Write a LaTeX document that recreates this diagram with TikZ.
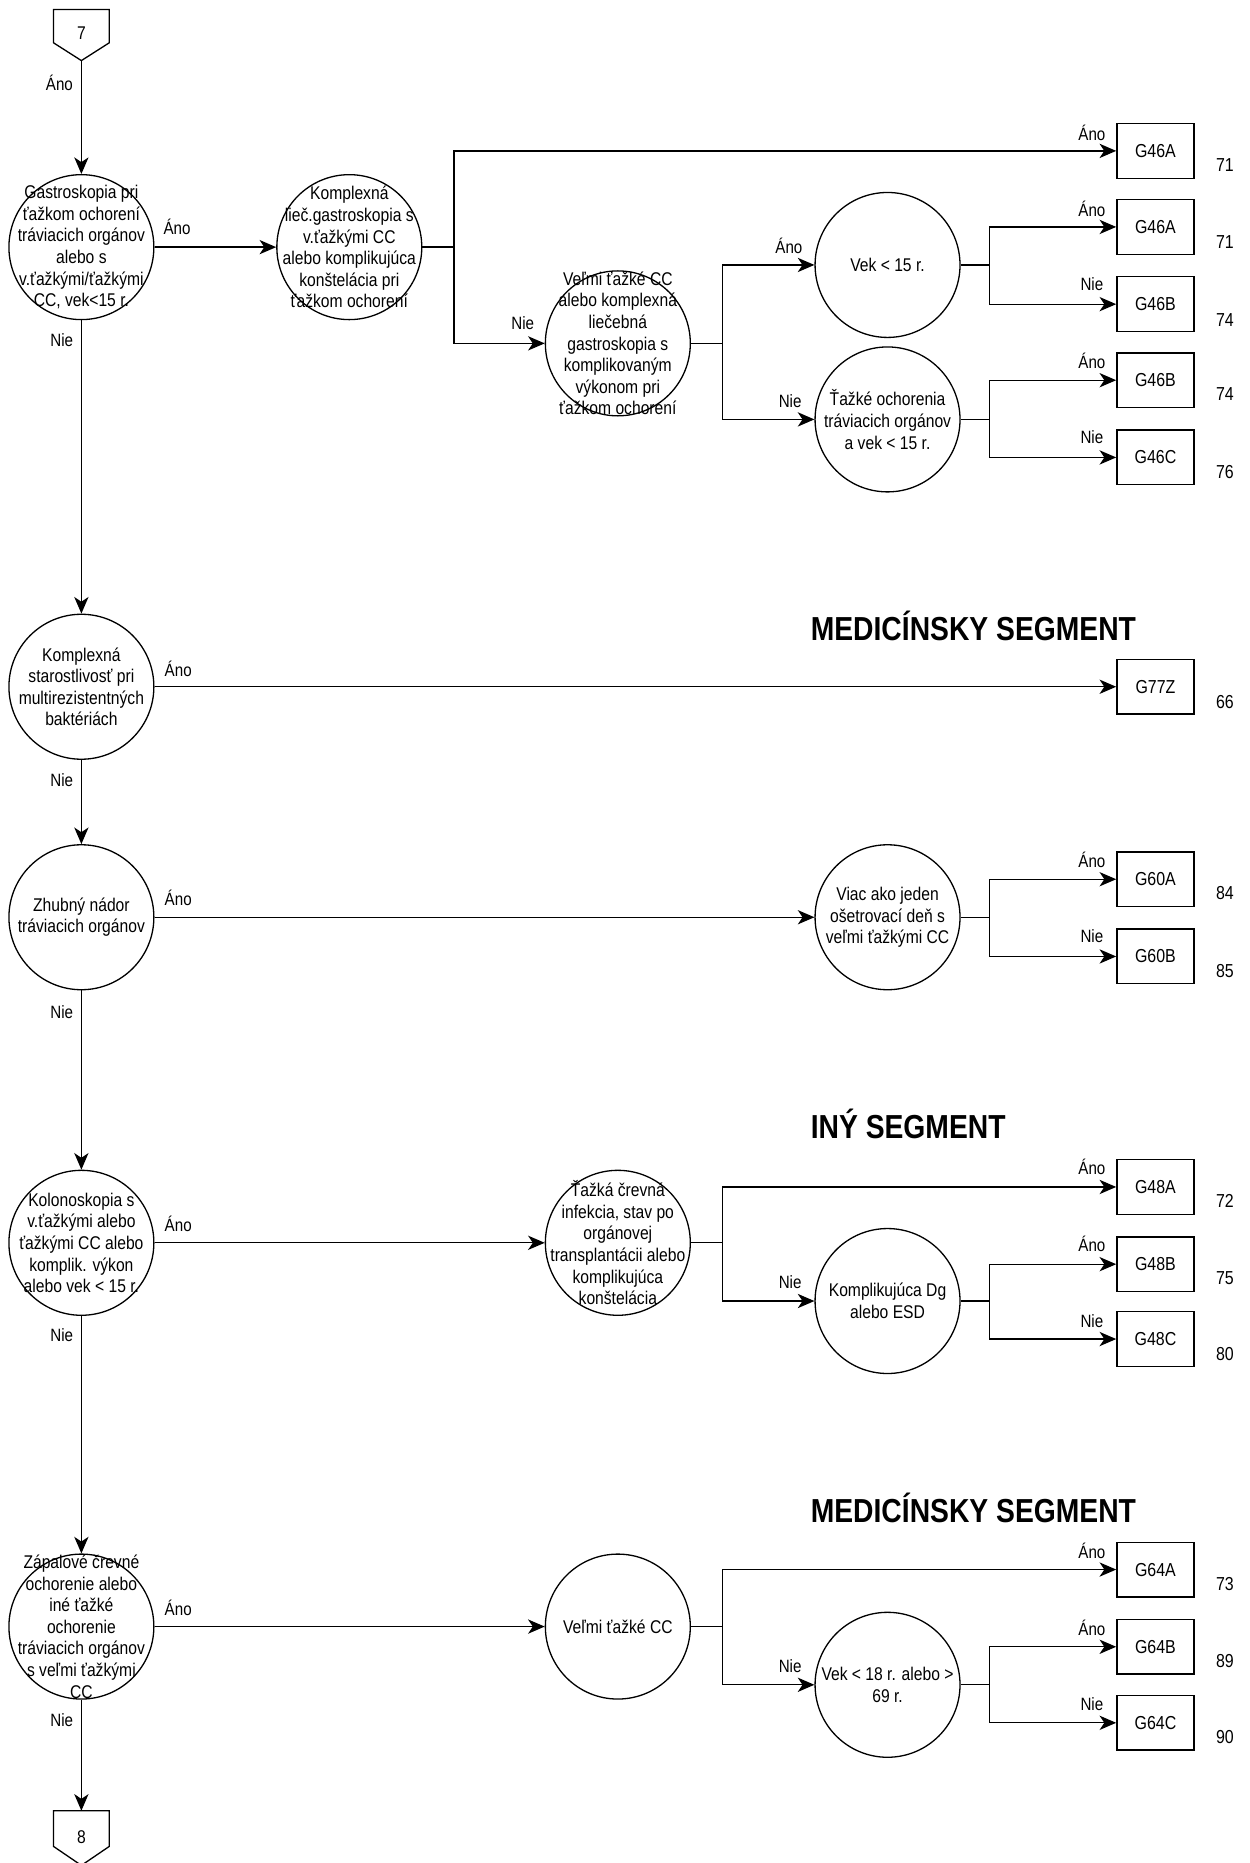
\documentclass[tikz,border=0pt]{standalone}
\usepackage{fontspec}
\setmainfont{Liberation Sans}[FakeStretch=0.85]
\usetikzlibrary{arrows.meta}
\begin{document}
\begin{tikzpicture}[x=0.5pt,y=-0.5pt,
  line/.style={line width=0.55pt},
  arr/.style={line width=0.55pt,-{Stealth[length=7pt,width=6pt,inset=2pt]}},
  circ/.style={draw,circle,minimum size=61pt,inner sep=0pt,line width=0.55pt},
  ctext/.style={align=center,font=\fontsize{7.75pt}{9.1pt}\selectfont,inner sep=0pt},
  box/.style={draw,rectangle,minimum width=32.5pt,minimum height=23pt,inner sep=0pt,line width=0.55pt,font=\fontsize{7.9pt}{9.1pt}\selectfont},
  lbl/.style={font=\fontsize{7.5pt}{9pt}\selectfont,inner sep=0pt},
  num/.style={font=\fontsize{7.9pt}{9pt}\selectfont,inner sep=0pt},
  ttl/.style={font=\fontsize{14pt}{16pt}\selectfont\bfseries,inner sep=0pt,anchor=base west}
]
\useasboundingbox (0,0) rectangle (1052,1568);

% off-page connectors
\draw[line] (45,8) -- (92,8) -- (92,36) -- (68.5,51) -- (45,36) -- cycle;
\node[ctext] (t7) at (68.5,28) {7};
\coordinate (p7tip) at (68.5,51);
\draw[line] (45,1524) -- (92,1524) -- (92,1554) -- (68.5,1570) -- (45,1554) -- cycle;
\node[ctext] (t8) at (68.5,1546) {8};
\coordinate (p8top) at (68.5,1524);

% circles
\node[circ] (c1) at (68.5,208) {};
\node[ctext] at (c1) {Gastroskopia pri\\ťažkom ochorení\\tráviacich orgánov\\alebo s\\v.ťažkými/ťažkými\\CC, vek<15 r.};
\node[circ] (c2) at (294,208) {};
\node[ctext] at (c2) {Komplexná\\lieč.gastroskopia s\\v.ťažkými CC\\alebo komplikujúca\\konštelácia pri\\ťažkom ochorení};
\node[circ] (c3) at (520,289) {};
\node[ctext] at (c3) {Veľmi ťažké CC\\alebo komplexná\\liečebná\\gastroskopia s\\komplikovaným\\výkonom pri\\ťažkom ochorení};
\node[circ] (c4) at (747,223) {};
\node[ctext] at (c4) {Vek < 15 r.};
\node[circ] (c5) at (747,353) {};
\node[ctext] at (c5) {Ťažké ochorenia\\tráviacich orgánov\\a vek < 15 r.};
\node[circ] (c6) at (68.5,578) {};
\node[ctext] at (c6) {Komplexná\\starostlivosť pri\\multirezistentných\\baktériách};
\node[circ] (c7) at (68.5,772) {};
\node[ctext] at (c7) {Zhubný nádor\\tráviacich orgánov};
\node[circ] (c8) at (747,772) {};
\node[ctext] at (c8) {Viac ako jeden\\ošetrovací deň s\\veľmi ťažkými CC};
\node[circ] (c9) at (68.5,1046) {};
\node[ctext] at (c9) {Kolonoskopia s\\v.ťažkými alebo\\ťažkými CC alebo\\komplik. výkon\\alebo vek < 15 r.};
\node[circ] (c10) at (520,1046) {};
\node[ctext] at (c10) {Ťažká črevná\\infekcia, stav po\\orgánovej\\transplantácii alebo\\komplikujúca\\konštelácia};
\node[circ] (c11) at (747,1095) {};
\node[ctext] at (c11) {Komplikujúca Dg\\alebo ESD};
\node[circ] (c12) at (68.5,1369) {};
\node[ctext] at (c12) {Zápalové črevné\\ochorenie alebo\\iné ťažké\\ochorenie\\tráviacich orgánov\\s veľmi ťažkými\\CC};
\node[circ] (c13) at (520,1369) {};
\node[ctext] at (c13) {Veľmi ťažké CC};
\node[circ] (c14) at (747,1418) {};
\node[ctext] at (c14) {Vek < 18 r. alebo >\\69 r.};

% boxes
\node[box] (g1) at (972.5,127) {G46A};
\node[box] (g2) at (972.5,191) {G46A};
\node[box] (g3) at (972.5,256) {G46B};
\node[box] (g4) at (972.5,320) {G46B};
\node[box] (g5) at (972.5,385) {G46C};
\node[box] (g6) at (972.5,578) {G77Z};
\node[box] (g7) at (972.5,740) {G60A};
\node[box] (g8) at (972.5,805) {G60B};
\node[box] (g9) at (972.5,999) {G48A};
\node[box] (g10) at (972.5,1064) {G48B};
\node[box] (g11) at (972.5,1127) {G48C};
\node[box] (g12) at (972.5,1321) {G64A};
\node[box] (g13) at (972.5,1386) {G64B};
\node[box] (g14) at (972.5,1450) {G64C};

% numbers
\node[num] (n1) at (1031,139) {71};
\node[num] (n2) at (1031,204) {71};
\node[num] (n3) at (1031,269) {74};
\node[num] (n4) at (1031,332) {74};
\node[num] (n5) at (1031,397) {76};
\node[num] (n6) at (1031,591) {66};
\node[num] (n7) at (1031,752) {84};
\node[num] (n8) at (1031,817) {85};
\node[num] (n9) at (1031,1011) {72};
\node[num] (n10) at (1031,1076) {75};
\node[num] (n11) at (1031,1140) {80};
\node[num] (n12) at (1031,1333) {73};
\node[num] (n13) at (1031,1398) {89};
\node[num] (n14) at (1031,1462) {90};

% titles
\node[ttl] (s1) at (682,539) {MEDICÍNSKY SEGMENT};
\node[ttl] (s2) at (682,958) {INÝ SEGMENT};
\node[ttl] (s3) at (682,1281) {MEDICÍNSKY SEGMENT};

% junctions
\coordinate (j1) at (382,208);
\coordinate (j2) at (608,289);
\coordinate (j3) at (833,223);
\coordinate (j4) at (833,353);
\coordinate (j5) at (833,772);
\coordinate (j6) at (608,1046);
\coordinate (j7) at (833,1095);
\coordinate (j8) at (608,1369);
\coordinate (j9) at (833,1418);

% vertical main line
\draw[arr] (p7tip) -- (c1.north);
\draw[arr] (c1.south) -- (c6.north);
\draw[arr] (c6.south) -- (c7.north);
\draw[arr] (c7.south) -- (c9.north);
\draw[arr] (c9.south) -- (c12.north);
\draw[arr] (c12.south) -- (p8top);

% row 1
\draw[arr] (c1.east) -- (c2.west);
\draw[line] (c2.east) -- (j1);
\draw[arr] (j1) |- (g1.west);
\draw[arr] (j1) |- (c3.west);
\draw[line] (c3.east) -- (j2);
\draw[arr] (j2) |- (c4.west);
\draw[arr] (j2) |- (c5.west);
\draw[line] (c4.east) -- (j3);
\draw[arr] (j3) |- (g2.west);
\draw[arr] (j3) |- (g3.west);
\draw[line] (c5.east) -- (j4);
\draw[arr] (j4) |- (g4.west);
\draw[arr] (j4) |- (g5.west);

% row 2
\draw[arr] (c6.east) -- (g6.west);

% row 3
\draw[arr] (c7.east) -- (c8.west);
\draw[line] (c8.east) -- (j5);
\draw[arr] (j5) |- (g7.west);
\draw[arr] (j5) |- (g8.west);

% row 4
\draw[arr] (c9.east) -- (c10.west);
\draw[line] (c10.east) -- (j6);
\draw[arr] (j6) |- (g9.west);
\draw[arr] (j6) |- (c11.west);
\draw[line] (c11.east) -- (j7);
\draw[arr] (j7) |- (g10.west);
\draw[arr] (j7) |- (g11.west);

% row 5
\draw[arr] (c12.east) -- (c13.west);
\draw[line] (c13.east) -- (j8);
\draw[arr] (j8) |- (g12.west);
\draw[arr] (j8) |- (c14.west);
\draw[line] (c14.east) -- (j9);
\draw[arr] (j9) |- (g13.west);
\draw[arr] (j9) |- (g14.west);

% labels
\node[lbl] (l1) at (50,70) {Áno};
\node[lbl] (l2) at (149,191) {Áno};
\node[lbl] (l3) at (52,286) {Nie};
\node[lbl] (l4) at (440,272) {Nie};
\node[lbl] (l5) at (919,112) {Áno};
\node[lbl] (l6) at (664,207) {Áno};
\node[lbl] (l7) at (665,338) {Nie};
\node[lbl] (l8) at (919,176) {Áno};
\node[lbl] (l9) at (919,239) {Nie};
\node[lbl] (l10) at (919,304) {Áno};
\node[lbl] (l11) at (919,368) {Nie};
\node[lbl] (l12) at (150,563) {Áno};
\node[lbl] (l13) at (52,657) {Nie};
\node[lbl] (l14) at (150,756) {Áno};
\node[lbl] (l15) at (919,724) {Áno};
\node[lbl] (l16) at (919,788) {Nie};
\node[lbl] (l17) at (52,852) {Nie};
\node[lbl] (l18) at (150,1030) {Áno};
\node[lbl] (l19) at (919,982) {Áno};
\node[lbl] (l20) at (665,1079) {Nie};
\node[lbl] (l21) at (919,1047) {Áno};
\node[lbl] (l22) at (919,1112) {Nie};
\node[lbl] (l23) at (52,1124) {Nie};
\node[lbl] (l24) at (150,1353) {Áno};
\node[lbl] (l25) at (919,1305) {Áno};
\node[lbl] (l26) at (665,1402) {Nie};
\node[lbl] (l27) at (919,1370) {Áno};
\node[lbl] (l28) at (919,1434) {Nie};
\node[lbl] (l29) at (52,1448) {Nie};
\end{tikzpicture}
\end{document}
